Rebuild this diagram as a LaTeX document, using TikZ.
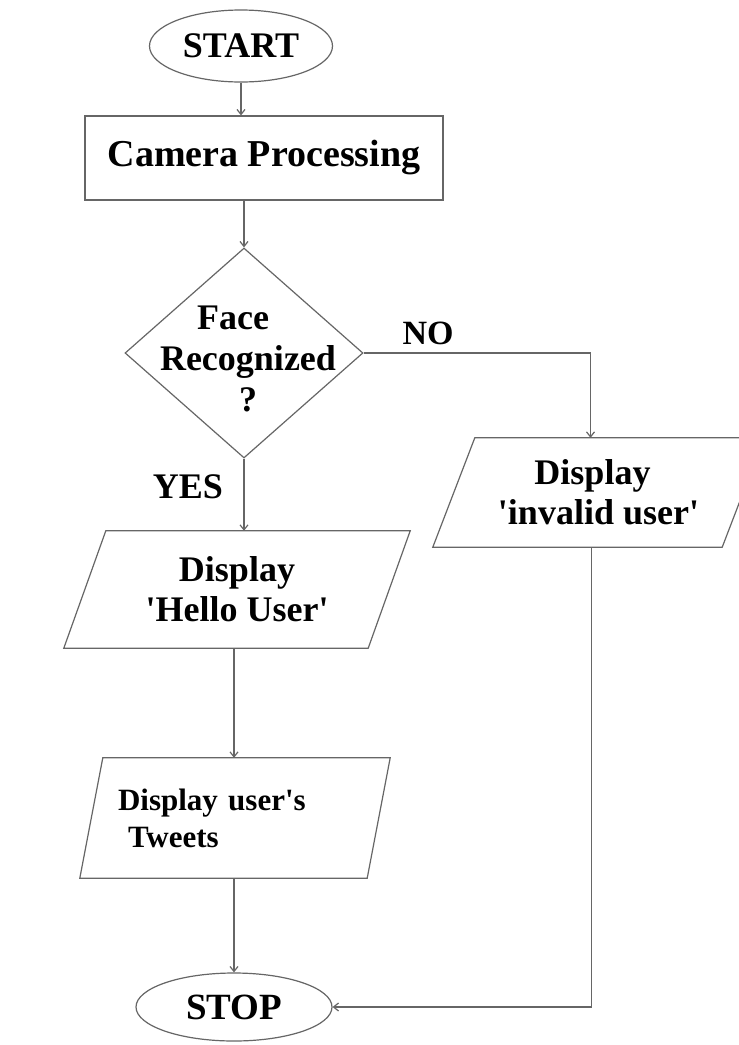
\documentclass[tikz,border=0pt]{standalone}
\usepackage{fontspec}
\setmainfont{Liberation Serif}[Ligatures=TeXOff]
\usetikzlibrary{shapes.geometric,arrows.meta,calc}

% parallelogram (input/output box) drawn around a named node; #2 = half the slant
\newcommand\drawpara[2]{%
  \draw[line] ($(#1.north west)+(#2,0)$) -- ($(#1.north east)+(#2,0)$)
    -- ($(#1.south east)-(#2,0)$) -- ($(#1.south west)-(#2,0)$) -- cycle;}

\begin{document}
\begin{tikzpicture}[x=1pt,y=-1pt,
  line/.style={draw=black!60, line width=1.2pt},
  arr/.style={line, -{Straight Barb[length=5pt,width=8pt]}},
  txt/.style={font=\fontsize{36}{40}\selectfont\bfseries, align=center, inner sep=0pt},
  term/.style={line, ellipse, inner sep=0pt, font=\fontsize{36}{40}\selectfont\bfseries},
]
\fill[white] (0,0) rectangle (739,1045);
\useasboundingbox (0,0) rectangle (739,1045);

% terminals and process
\node[term, minimum width=183, minimum height=72] (start) at (241,46) {START};
\node[line, rectangle, txt, font=\fontsize{38}{42}\selectfont\bfseries,
      minimum width=358, minimum height=84] (cam) at (264,158) {Camera Processing};

% decision
\node[line, diamond, minimum width=238, minimum height=210, inner sep=0pt] (dec) at (244,353) {};
\node[txt, font=\fontsize{36}{41}\selectfont\bfseries] (dectext) at (248,359)
  {Face\hspace*{30pt}\\Recognized\\?};
\node[txt, font=\fontsize{34}{38}\selectfont\bfseries] (no) at (428,333) {NO};
\node[txt] (yes) at (188,487) {YES};

% output boxes
\node[txt, minimum width=289, minimum height=109] (invalid) at (598.5,492.5) {Display\hspace*{12pt}\\'invalid user'};
\drawpara{invalid}{21}
\node[txt, minimum width=304, minimum height=117] (hello) at (237,589.5) {Display\\'Hello User'};
\drawpara{hello}{21}
\node[minimum width=287, minimum height=120, inner sep=0pt, text width=234, align=left,
      font=\fontsize{31}{37}\selectfont\bfseries] (tweets) at (235,818) {Display user's\\\hspace*{10pt}Tweets};
\drawpara{tweets}{11.5}

\node[term, font=\fontsize{37}{40}\selectfont\bfseries, minimum width=196, minimum height=68] (stop) at (234,1007) {STOP};

% connectors
\draw[arr] (start.south) -- (start.south |- cam.north);
\draw[arr] (dec.north |- cam.south) -- (dec.north);
\draw[arr] (dec.east) -| ([xshift=-8pt]invalid.north);
\draw[arr] (dec.south) -- (dec.south |- hello.north);
\draw[arr] (hello.south -| stop.north) -- (tweets.north -| stop.north);
\draw[arr] (tweets.south -| stop.north) -- (stop.north);
\draw[arr] ([xshift=-7pt]invalid.south) |- (stop.east);
\end{tikzpicture}
\end{document}
